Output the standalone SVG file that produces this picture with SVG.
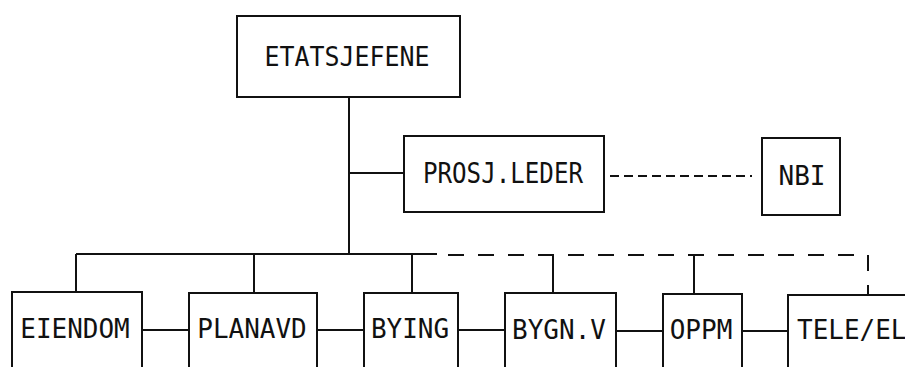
<svg xmlns="http://www.w3.org/2000/svg" width="905" height="367" viewBox="0 0 905 367">
<style>
.box{fill:#fff;stroke:#111;stroke-width:2}
.t{font-family:"DejaVu Sans Mono","Liberation Mono",monospace;font-size:26px;fill:#111;text-anchor:middle}
.ln{fill:none;stroke:#111;stroke-width:2}
.d1{stroke-dasharray:16 14}
.d2{stroke-dasharray:9 5}
</style>
<rect width="905" height="367" fill="#fff"/>
<g id="connectors">
<path class="ln" d="M349 97V254"/>
<path class="ln" d="M349 173H404"/>
<path class="ln d2" d="M610 176H752"/>
<path class="ln" d="M76 254H437"/>
<path class="ln d1" d="M448 255H868V295"/>
<path class="ln" d="M76 254V292M254 254V293M412 254V293"/>
<path class="ln" d="M553 255V293M694 255V294"/>
<path class="ln" d="M142 330H189M317 330H364M458 330H505M616 331H663M742 331H788"/>
</g>
<g id="etatsjefene"><rect class="box" x="237" y="16" width="223" height="81"/><text class="t" transform="translate(347,66) scale(0.96,1.05)">ETATSJEFENE</text></g>
<g id="prosjleder"><rect class="box" x="404" y="136" width="200" height="76"/><text class="t" transform="translate(503,183) scale(0.93,1.08)">PROSJ.LEDER</text></g>
<g id="nbi"><rect class="box" x="762" y="138" width="78" height="77"/><text class="t" transform="translate(802,185) scale(1,1.05)">NBI</text></g>
<g id="eiendom"><rect class="box" x="12" y="292" width="130" height="90"/><text class="t" transform="translate(75,338) scale(1,1.05)">EIENDOM</text></g>
<g id="planavd"><rect class="box" x="189" y="293" width="128" height="90"/><text class="t" transform="translate(252,338) scale(1,1.05)">PLANAVD</text></g>
<g id="bying"><rect class="box" x="364" y="293" width="94" height="90"/><text class="t" transform="translate(410,338) scale(1,1.05)">BYING</text></g>
<g id="bygnv"><rect class="box" x="505" y="293" width="111" height="90"/><text class="t" transform="translate(559,339) scale(1,1.05)">BYGN.V</text></g>
<g id="oppm"><rect class="box" x="663" y="294" width="79" height="90"/><text class="t" transform="translate(701,339) scale(1,1.05)">OPPM</text></g>
<g id="teleel"><rect class="box" x="788" y="295" width="130" height="90"/><text class="t" transform="translate(797,339) scale(1,1.05)" style="text-anchor:start">TELE/EL</text></g>
</svg>
